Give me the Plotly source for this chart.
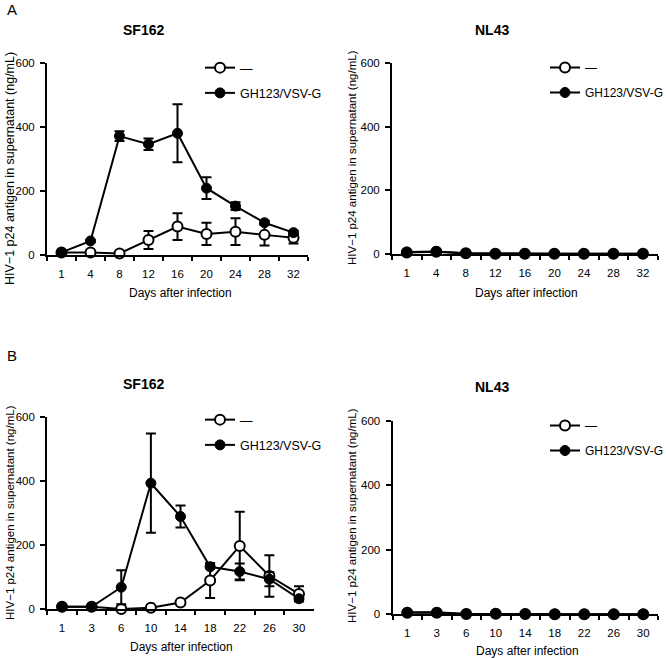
import plotly.graph_objects as go

W, H = 666, 658

# ---------------- data ----------------
days_a = ["1", "4", "8", "12", "16", "20", "24", "28", "32"]
days_b = ["1", "3", "6", "10", "14", "18", "22", "26", "30"]

a_sf_ctrl = [8, 8, 5, 47, 89, 66, 73, 63, 54]
a_sf_ctrl_err = [3, 3, 2, 28, 42, 35, 42, 33, 18]
a_sf_gh = [8, 44, 372, 347, 381, 209, 153, 101, 70]
a_sf_gh_err = [2, 3, 15, 18, 91, 34, 12, 6, 6]

a_nl_ctrl = [5, 7, 2, 1, 1, 1, 1, 1, 1]
a_nl_ctrl_err = [0, 0, 0, 0, 0, 0, 0, 0, 0]
a_nl_gh = [6, 8, 2, 1, 1, 1, 1, 1, 1]
a_nl_gh_err = [0, 0, 0, 0, 0, 0, 0, 0, 0]

b_sf_ctrl = [8, 8, 1, 5, 21, 90, 198, 104, 48]
b_sf_ctrl_err = [2, 2, 0, 2, 5, 55, 107, 65, 24]
b_sf_gh = [8, 8, 69, 394, 290, 133, 118, 94, 33]
b_sf_gh_err = [2, 2, 53, 155, 34, 5, 25, 22, 5]

b_nl_ctrl = [5, 5, 1, 2, 1, 0.5, 0.5, 0.5, 0.5]
b_nl_ctrl_err = [0, 0, 0, 0, 0, 0, 0, 0, 0]
b_nl_gh = [6, 6, 1, 2, 1, 0.5, 0.5, 0.5, 0.5]
b_nl_gh_err = [0, 0, 0, 0, 0, 0, 0, 0, 0]

series_names = ["—", "GH123/VSV-G"]
panel_titles = ["SF162", "NL43", "SF162", "NL43"]
y_ticks = [0, 200, 400, 600]
x_title = "Days after infection"
y_title = "HIV−1 p24 antigen in supernatant (ng/mL)"

FONT = "Liberation Sans, Arial, sans-serif"

# panel geometry in pixels (legend: left x, top y, font size)
panels = [
    dict(x0=47, x1=308, yb=255, yt=63.3, lx=200, ly=53, lf=12.5, days=days_a,
         ctrl=a_sf_ctrl, ctrl_e=a_sf_ctrl_err, gh=a_sf_gh, gh_e=a_sf_gh_err),
    dict(x0=392, x1=657.7, yb=254, yt=63.3, lx=545, ly=53, lf=12, days=days_a,
         ctrl=a_nl_ctrl, ctrl_e=a_nl_ctrl_err, gh=a_nl_gh, gh_e=a_nl_gh_err),
    dict(x0=47.2, x1=313.8, yb=609.3, yt=417.3, lx=200, ly=405, lf=12.5, days=days_b,
         ctrl=b_sf_ctrl, ctrl_e=b_sf_ctrl_err, gh=b_sf_gh, gh_e=b_sf_gh_err),
    dict(x0=392.5, x1=658, yb=614.3, yt=420.7, lx=545, ly=411, lf=12, days=days_b,
         ctrl=b_nl_ctrl, ctrl_e=b_nl_ctrl_err, gh=b_nl_gh, gh_e=b_nl_gh_err),
]

fig = go.Figure()
layout = {}
annotations = []

for i, p in enumerate(panels):
    n = "" if i == 0 else str(i + 1)
    xa, ya = "x" + n, "y" + n
    leg = "legend" + n
    err_show = i in (0, 2)
    fig.add_trace(go.Scatter(
        x=p["days"], y=p["ctrl"], xaxis=xa, yaxis=ya, name=series_names[0],
        mode="lines+markers", legend=leg, legendgroup="c%d" % i,
        line=dict(color="black", width=2),
        marker=dict(symbol="circle", size=10, color="white",
                    line=dict(color="black", width=2)),
        error_y=dict(type="data", array=p["ctrl_e"], visible=err_show,
                     color="black", thickness=2, width=5),
        cliponaxis=False,
    ))
    fig.add_trace(go.Scatter(
        x=p["days"], y=p["gh"], xaxis=xa, yaxis=ya, name=series_names[1],
        mode="lines+markers", legend=leg, legendgroup="g%d" % i,
        line=dict(color="black", width=2),
        marker=dict(symbol="circle", size=10, color="black",
                    line=dict(color="black", width=1)),
        error_y=dict(type="data", array=p["gh_e"], visible=err_show,
                     color="black", thickness=2, width=5),
        cliponaxis=False,
    ))

    layout["xaxis" + n] = dict(
        domain=[p["x0"] / W, p["x1"] / W], anchor=ya, automargin=False,
        type="category", categoryorder="array", categoryarray=p["days"],
        range=[-0.5, 8.5], tickson="boundaries", ticks="outside",
        ticklen=4, tickwidth=2, tickcolor="black",
        showline=True, linecolor="black", linewidth=2,
        showgrid=False, zeroline=False, ticklabelstandoff=7,
        tickfont=dict(family=FONT, size=11.5, color="black"),
    )
    layout["yaxis" + n] = dict(
        domain=[1 - p["yb"] / H, 1 - p["yt"] / H], anchor=xa, automargin=False,
        range=[0, 600], tickvals=y_ticks, ticks="outside",
        ticklen=5, tickwidth=2, tickcolor="black",
        showline=True, linecolor="black", linewidth=2,
        showgrid=False, zeroline=False, ticklabelstandoff=3,
        tickfont=dict(family=FONT, size=11.5, color="black"),
    )
    layout[leg] = dict(
        x=p["lx"] / W, y=1 - p["ly"] / H, xanchor="left", yanchor="top",
        bgcolor="rgba(0,0,0,0)", tracegroupgap=6, traceorder="grouped",
        font=dict(family=FONT, size=p["lf"], color="black"),
        itemwidth=30,
    )

title_pos = [(143, 30), (492, 30), (143, 384), (492, 387)]
for t, (x, y) in zip(panel_titles, title_pos):
    annotations.append(dict(text="<b>%s</b>" % t, x=x / W, y=1 - y / H,
                            xref="paper", yref="paper", showarrow=False,
                            xanchor="center", yanchor="middle",
                            font=dict(family=FONT, size=14, color="black")))
xt_pos = [(180, 293), (526, 293), (181, 647), (527, 651)]
for (x, y) in xt_pos:
    annotations.append(dict(text=x_title, x=x / W, y=1 - y / H,
                            xref="paper", yref="paper", showarrow=False,
                            xanchor="center", yanchor="middle",
                            font=dict(family=FONT, size=12, color="black")))
yt_pos = [(10, 169, 12.5), (352, 158, 11.5), (10, 513, 11.5), (352, 516, 11.5)]
for (x, y, s) in yt_pos:
    annotations.append(dict(text=y_title, x=x / W, y=1 - y / H,
                            xref="paper", yref="paper", showarrow=False,
                            textangle=-90, xanchor="center", yanchor="middle",
                            font=dict(family=FONT, size=s, color="black")))
for t, (x, y) in zip(["A", "B"], [(12, 10), (12, 355)]):
    annotations.append(dict(text=t, x=x / W, y=1 - y / H,
                            xref="paper", yref="paper", showarrow=False,
                            xanchor="center", yanchor="middle",
                            font=dict(family=FONT, size=15, color="black")))

fig.update_layout(
    template="none",
    width=W, height=H, margin=dict(l=0, r=0, t=0, b=0, autoexpand=False),
    paper_bgcolor="white", plot_bgcolor="white",
    showlegend=True, annotations=annotations,
    font=dict(family=FONT, color="black"),
    **layout,
)

fig.write_html("out.html", config={"displayModeBar": False},
               post_script="document.body.style.margin='0';")
